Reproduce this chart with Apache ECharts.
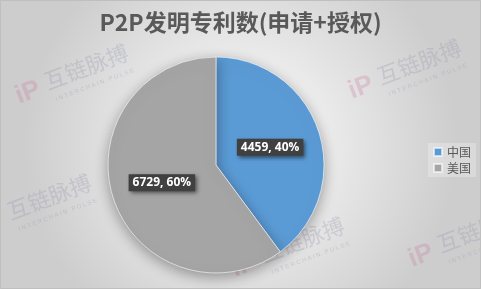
<!DOCTYPE html>
<html><head><meta charset="utf-8">
<script src="https://cdn.jsdelivr.net/npm/echarts@6/dist/echarts.min.js"></script>
<style>html,body{margin:0;padding:0;}#c{width:481px;height:289px;}</style>
</head><body><div id="c"></div>
<script>
const titleText = 'P2P发明专利数(申请+授权)';
const categories = ['中国', '美国'];
const values = [4459, 6729];
const colors = ['#5B9BD5', '#A5A5A5'];

const chart = echarts.init(document.getElementById('c'), null, {renderer: 'canvas'});
const font = '"Noto Sans CJK SC", "Microsoft YaHei", sans-serif';

function wm(x, y) {
  const rot = 0.36;
  const mk = (dx, dy, style) => ({
    type: 'text', x: x + dx * Math.cos(rot) + dy * Math.sin(rot), y: y - dx * Math.sin(rot) + dy * Math.cos(rot),
    rotation: rot, silent: true, z: 0, style: style
  });
  return [
    mk(0, 0, {text: 'iP', fill: 'rgba(200,120,150,0.28)', font: 'bold 26px sans-serif', textVerticalAlign: 'top'}),
    mk(32, -2, {text: '互链脉搏', fill: 'rgba(150,150,180,0.30)', font: '22px ' + font, textVerticalAlign: 'top'}),
    mk(36, 26, {text: 'I N T E R C H A I N   P U L S E', fill: 'rgba(150,150,180,0.35)', font: '6px sans-serif', textVerticalAlign: 'top'})
  ];
}

chart.setOption({
  backgroundColor: {
    type: 'radial', x: 0.5, y: 0.5, r: 0.75,
    colorStops: [{offset: 0, color: '#ffffff'}, {offset: 1, color: '#cdcdcd'}]
  },
  title: {
    text: titleText, left: 'center', top: 6,
    textStyle: {fontFamily: font, fontSize: 23, fontWeight: 'bold', color: '#595959'}
  },
  legend: {
    orient: 'vertical', left: 428, top: 143,
    data: categories, icon: 'rect', itemWidth: 8, itemHeight: 8, itemGap: 4,
    padding: [3, 5, 3, 5],
    backgroundColor: 'rgba(255,255,255,0.25)',
    textStyle: {fontFamily: font, fontSize: 12, color: '#595959'}
  },
  graphic: [].concat(
    wm(12, 85), wm(345, 80), wm(-25, 215), wm(228, 258), wm(405, 248),
    [{type: 'rect', shape: {x: 0.5, y: 0.5, width: 480, height: 288}, style: {fill: 'none', stroke: '#bfbfbf', lineWidth: 1}, silent: true, z: 100}]
  ),
  series: [{
    type: 'pie', center: [216, 165], radius: [0, 108],
    startAngle: 90, clockwise: true, percentPrecision: 0,
    data: categories.map((c, i) => ({name: c, value: values[i], itemStyle: {color: colors[i]}})),
    itemStyle: {borderColor: 'rgba(255,255,255,0.6)', borderWidth: 1, shadowBlur: 14, shadowColor: 'rgba(0,0,0,0.35)', shadowOffsetY: 4},
    label: {
      show: true, position: 'inside', formatter: '{c}, {d}%',
      color: '#ffffff', fontWeight: 'bold', fontSize: 12, fontFamily: '"Open Sans", sans-serif',
      backgroundColor: '#404040', padding: [3, 4, 2, 4],
      shadowBlur: 4, shadowColor: 'rgba(0,0,0,0.5)', shadowOffsetX: 2, shadowOffsetY: 2
    },
    labelLine: {show: false},
    emphasis: {disabled: true},
    animation: false
  }],
  animation: false
});
</script></body></html>
